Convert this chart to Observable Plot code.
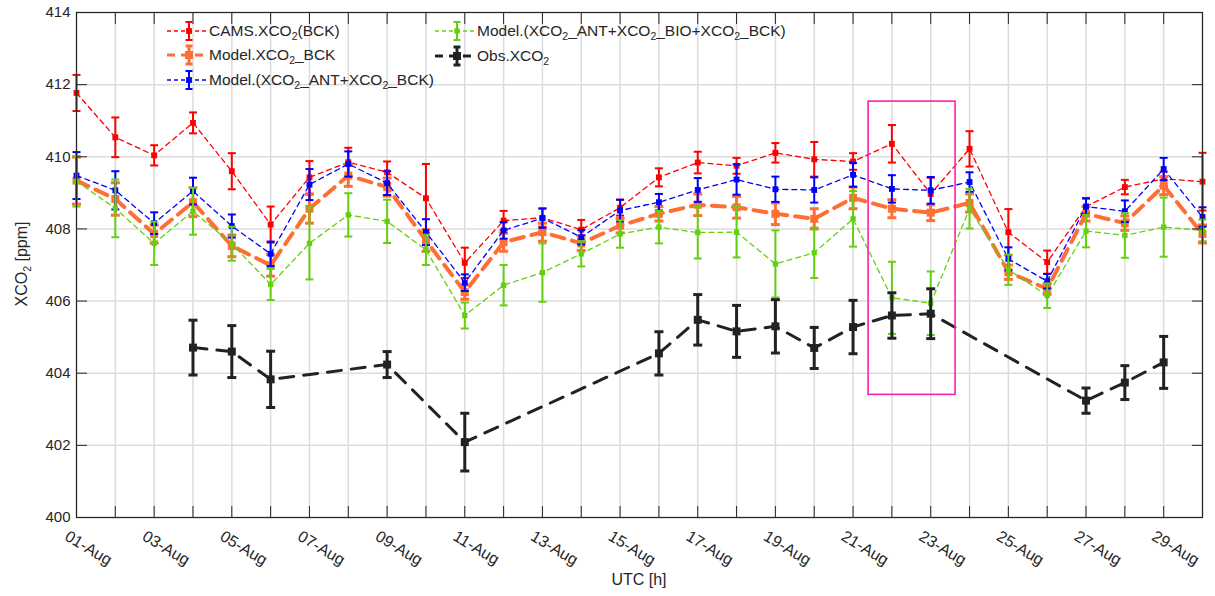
<!DOCTYPE html>
<html>
<head>
<meta charset="utf-8">
<script src="https://cdn.jsdelivr.net/npm/d3@7"></script>
<script src="https://cdn.jsdelivr.net/npm/@observablehq/plot@0.6"></script>
<style>
  html, body { margin: 0; padding: 0; background: #fff; }
  #wrap { position: relative; width: 1215px; height: 596px; font-family: "Liberation Sans", Arial, sans-serif; color: #262626; }
  #wrap svg { display: block; }
  .lg { position: absolute; display: flex; align-items: center; font-size: 15.5px; white-space: nowrap; }
  .lg svg { margin-right: 2px; }
  sub { font-size: 10.5px; vertical-align: -4px; line-height: 0; }
  .ylab { position: absolute; left: 22px; top: 264px; transform: translate(-50%, -50%) rotate(-90deg); font-size: 16px; white-space: nowrap; }
  .xlab { position: absolute; left: 639px; top: 580px; transform: translate(-50%, -50%); font-size: 16px; white-space: nowrap; }
</style>
</head>
<body>
<div id="wrap"></div>
<script>
// ---------- data ----------
const days = [1,2,3,4,5,6,7,8,9,10,11,12,13,14,15,16,17,18,19,20,21,22,23,24,25,26,27,28,29,30];
const cams =     [411.77,410.54,410.04,410.94,409.60,408.12,409.43,409.85,409.57,408.85,407.06,408.23,408.31,407.98,408.59,409.43,409.84,409.75,410.11,409.93,409.87,410.36,408.97,410.22,407.91,407.08,408.62,409.16,409.39,409.31];
const camsErr =  [0.50,0.55,0.28,0.29,0.50,0.50,0.45,0.40,0.30,0.95,0.42,0.27,0.25,0.27,0.22,0.25,0.30,0.22,0.27,0.48,0.23,0.52,0.45,0.49,0.64,0.32,0.24,0.20,0.20,0.80];
const bck =      [409.34,408.83,407.86,408.74,407.53,406.99,408.56,409.48,409.16,407.68,406.25,407.63,407.91,407.60,408.09,408.42,408.67,408.60,408.42,408.28,408.86,408.56,408.45,408.72,406.80,406.34,408.42,408.16,409.20,407.86];
const bckErr =   [0.65,0.45,0.25,0.40,0.30,0.30,0.40,0.30,0.25,0.30,0.20,0.25,0.25,0.20,0.20,0.20,0.30,0.30,0.30,0.28,0.30,0.25,0.22,0.25,0.20,0.15,0.20,0.20,0.25,0.25];
const antBck =   [409.48,409.07,408.16,409.05,408.08,407.31,409.23,409.80,409.27,407.91,406.51,407.96,408.30,407.77,408.51,408.74,409.08,409.37,409.10,409.08,409.50,409.11,409.07,409.30,407.17,406.55,408.62,408.49,409.66,408.33];
const antBckErr =[0.65,0.53,0.30,0.37,0.32,0.34,0.43,0.35,0.33,0.36,0.23,0.23,0.27,0.20,0.30,0.23,0.33,0.42,0.35,0.35,0.33,0.38,0.37,0.27,0.32,0.20,0.22,0.30,0.31,0.27];
const antBioBck =[409.32,408.57,407.60,408.49,407.59,406.46,407.60,408.39,408.21,407.42,405.60,406.44,406.79,407.31,407.86,408.05,407.90,407.91,407.03,407.34,408.28,406.09,405.94,408.56,406.87,406.15,407.94,407.82,408.05,407.96];
const antBioBckErr=[0.70,0.80,0.60,0.65,0.47,0.43,1.00,0.60,0.60,0.42,0.36,0.56,0.81,0.35,0.38,0.45,0.72,0.70,0.93,0.70,0.77,1.00,0.88,0.55,0.42,0.34,0.45,0.62,0.82,0.30];
const obsDays =  [4,5,6,9,11,16,17,18,19,20,21,22,23,27,28,29];
const obs =      [404.71,404.60,403.83,404.24,402.09,404.55,405.48,405.16,405.30,404.70,405.28,405.60,405.65,403.24,403.74,404.30];
const obsErr =   [0.76,0.72,0.78,0.36,0.80,0.60,0.70,0.72,0.74,0.57,0.74,0.63,0.69,0.35,0.47,0.72];
const labelDays = [1,3,5,7,9,11,13,15,17,19,21,23,25,27,29];
const tickLabels = ["01-Aug","03-Aug","05-Aug","07-Aug","09-Aug","11-Aug","13-Aug","15-Aug","17-Aug","19-Aug","21-Aug","23-Aug","25-Aug","27-Aug","29-Aug"];
const yTicks = [400,402,404,406,408,410,412,414];
// highlighted window (days of August, fractional) and ppm range
const hlDays = [21.4, 23.64];
const hlPpm = [403.4, 411.53];

// ---------- helpers ----------
const date = d => new Date(Date.UTC(2021, 7, 1) + (d - 1) * 864e5);
const rows = (ds, v, e) => ds.map((d, i) => ({date: date(d), v: v[i], e: e[i]}));
const cap = {draw(ctx, size) { const w = Math.sqrt(size / Math.PI); ctx.moveTo(-w, 0); ctx.lineTo(w, 0); }};

const series = [
  {name: "cams", data: rows(days, cams, camsErr), color: "#ff0000", lw: 1.3, dash: "5,4", ew: 2, cr: 4, mr: 3.3},
  {name: "bck", data: rows(days, bck, bckErr), color: "#ff6f35", lw: 4, dash: "13,8", ew: 3, cr: 4.5, mr: 4.5},
  {name: "antBck", data: rows(days, antBck, antBckErr), color: "#0000ff", lw: 1.3, dash: "5,4", ew: 2, cr: 4, mr: 3.3},
  {name: "antBioBck", data: rows(days, antBioBck, antBioBckErr), color: "#63d00f", lw: 1.3, dash: "5,4", ew: 2, cr: 4, mr: 3},
  {name: "obs", data: rows(obsDays, obs, obsErr), color: "#222222", lw: 3, dash: "14,10", ew: 3, cr: 4.5, mr: 4.5}
];

const marks = [
  Plot.gridX(days.map(date), {stroke: "#dcdcdc", strokeOpacity: 1, strokeWidth: 1.5}),
  Plot.gridY(yTicks, {stroke: "#dcdcdc", strokeOpacity: 1, strokeWidth: 1.5})
];
for (const s of series) {
  marks.push(
    Plot.line(s.data, {x: "date", y: "v", stroke: s.color, strokeWidth: s.lw, strokeDasharray: s.dash}),
    Plot.ruleX(s.data, {x: "date", y1: d => d.v - d.e, y2: d => d.v + d.e, stroke: s.color, strokeWidth: s.ew}),
    Plot.dot(s.data, {x: "date", y: d => d.v + d.e, symbol: cap, r: s.cr, stroke: s.color, strokeWidth: s.ew, fill: "none"}),
    Plot.dot(s.data, {x: "date", y: d => d.v - d.e, symbol: cap, r: s.cr, stroke: s.color, strokeWidth: s.ew, fill: "none"}),
    Plot.dot(s.data, {x: "date", y: "v", symbol: "square", r: s.mr, fill: s.color, stroke: "none"})
  );
}
marks.push(
  Plot.rect([0], {x1: () => date(hlDays[0]), x2: () => date(hlDays[1]), y1: () => hlPpm[0], y2: () => hlPpm[1], fill: "none", stroke: "#ff1fa5", strokeWidth: 1.6}),
  Plot.frame({stroke: "#262626", strokeWidth: 1.2}),
  Plot.axisX(days.map(date), {anchor: "bottom", tickSize: -11, tickFormat: () => "", label: null, stroke: "#262626"}),
  Plot.axisX(days.map(date), {anchor: "top", tickSize: -11, tickFormat: () => "", label: null, stroke: "#262626"}),
  Plot.axisY(yTicks, {anchor: "left", tickSize: -11, tickFormat: () => "", label: null, stroke: "#262626"}),
  Plot.axisY(yTicks, {anchor: "right", tickSize: -11, tickFormat: () => "", label: null, stroke: "#262626"}),
  Plot.axisY(yTicks, {anchor: "left", tickSize: 0, tickPadding: 6, label: null, fontSize: 15, fill: "#262626"}),
  Plot.text(labelDays, {x: d => date(d), frameAnchor: "bottom", text: (d, i) => tickLabels[i], rotate: 31, textAnchor: "start", lineAnchor: "top", dx: -7, dy: 12, fontSize: 16, fill: "#262626"})
);

const chart = Plot.plot({
  width: 1215, height: 596,
  marginLeft: 76, marginRight: 13, marginTop: 12, marginBottom: 79,
  x: {type: "utc", domain: [date(1), date(30)], axis: null},
  y: {domain: [400, 414], axis: null},
  style: {fontFamily: "'Liberation Sans', Arial, sans-serif", fontSize: "15px", color: "#262626", background: "white", overflow: "visible"},
  marks
});
const wrap = document.getElementById("wrap");
wrap.appendChild(chart);

// ---------- legend ----------
const legendItems = [
  {s: 0, html: "CAMS.XCO<sub>2</sub>(BCK)", left: 167, top: 31},
  {s: 1, html: "Model.XCO<sub>2</sub>_BCK", left: 167, top: 55},
  {s: 2, html: "Model.(XCO<sub>2</sub>_ANT+XCO<sub>2</sub>_BCK)", left: 167, top: 80},
  {s: 3, html: "Model.(XCO<sub>2</sub>_ANT+XCO<sub>2</sub>_BIO+XCO<sub>2</sub>_BCK)", left: 435, top: 31},
  {s: 4, html: "Obs.XCO<sub>2</sub>", left: 435, top: 56}
];
for (const it of legendItems) {
  const s = series[it.s];
  const div = document.createElement("div");
  div.className = "lg";
  div.style.left = it.left + "px";
  div.style.top = (it.top - 12) + "px";
  div.style.height = "24px";
  const cx = 22, h = s.mr * 1.77;
  div.innerHTML = `<svg width="40" height="24" viewBox="0 0 40 24">
    <line x1="0" y1="12" x2="40" y2="12" stroke="${s.color}" stroke-width="${Math.min(s.lw, 3)}" stroke-dasharray="${s.lw > 2 ? '8,6' : '4,3'}"/>
    <line x1="${cx}" y1="3" x2="${cx}" y2="21" stroke="${s.color}" stroke-width="${s.ew}"/>
    <line x1="${cx - 3.5}" y1="3" x2="${cx + 3.5}" y2="3" stroke="${s.color}" stroke-width="${s.ew}"/>
    <line x1="${cx - 3.5}" y1="21" x2="${cx + 3.5}" y2="21" stroke="${s.color}" stroke-width="${s.ew}"/>
    <rect x="${cx - h / 2}" y="${12 - h / 2}" width="${h}" height="${h}" fill="${s.color}"/>
  </svg><span>${it.html}</span>`;
  wrap.appendChild(div);
}
const yl = document.createElement("div"); yl.className = "ylab"; yl.innerHTML = "XCO<sub>2</sub> [ppm]"; wrap.appendChild(yl);
const xl = document.createElement("div"); xl.className = "xlab"; xl.textContent = "UTC [h]"; wrap.appendChild(xl);
</script>
</body>
</html>
